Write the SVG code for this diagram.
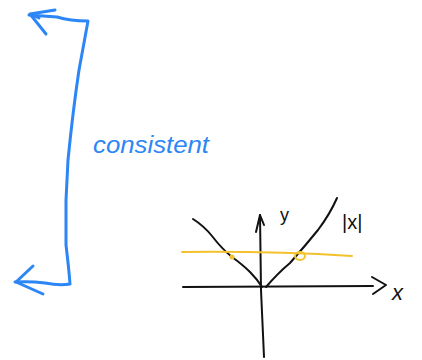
<svg xmlns="http://www.w3.org/2000/svg" width="422" height="360" viewBox="0 0 422 360">
<style>
.blue{fill:none;stroke:#2C86F6;stroke-width:3;stroke-linecap:round;stroke-linejoin:round}
.ink{fill:none;stroke:#111;stroke-width:2;stroke-linecap:round;stroke-linejoin:round}
.yel{fill:none;stroke:#F3C12C;stroke-width:2;stroke-linecap:round;stroke-linejoin:round}
.hand{font-family:"Liberation Sans","DejaVu Sans",sans-serif}
</style>
<rect width="422" height="360" fill="#fff"/>
<g id="bracket">
<path class="blue" d="M29,15 L57,17 Q70,21 88,21 L79,70 Q73,110 68,160 L66,200 L66,245 Q69,270 70,284 Q60,286 45,283 Q30,281 15,282"/>
<path class="blue" d="M55,10 L30,14 L46,34 M39,18 L30,14"/>
<path class="blue" d="M33,266 L16,282 L43,294"/>
<text class="hand" x="93" y="153" font-size="24" fill="#2C86F6" textLength="116" lengthAdjust="spacingAndGlyphs" font-style="italic">consistent</text>
</g>
<g id="graph">
<path class="ink" d="M264,357 L261,290 L260,215"/>
<path class="ink" d="M256,232 L260,215 L264,225"/>
<path class="ink" d="M183,287 L373,286"/>
<path class="ink" d="M372,277 L386,285 L373,294"/>
<path class="ink" d="M193,219 Q204,226 212,236 Q222,249 232,257 Q243,265 250,272 Q257,279 262,287"/>
<path class="ink" d="M266,287 Q278,273 290,263 Q305,246 318,230 Q330,214 337,198"/>
<path class="yel" d="M182,252 Q270,251 352,256"/>
<circle cx="232" cy="257" r="2.5" fill="#F3C12C"/>
<ellipse cx="300" cy="256" rx="5" ry="4" class="yel"/>
<text class="hand" x="280" y="221" font-size="18" fill="#111">y</text>
<text class="hand" x="342" y="229" font-size="20" fill="#111">|x|</text>
<text class="hand" x="392" y="300" font-size="22" fill="#111" font-style="italic">x</text>
</g>
</svg>
